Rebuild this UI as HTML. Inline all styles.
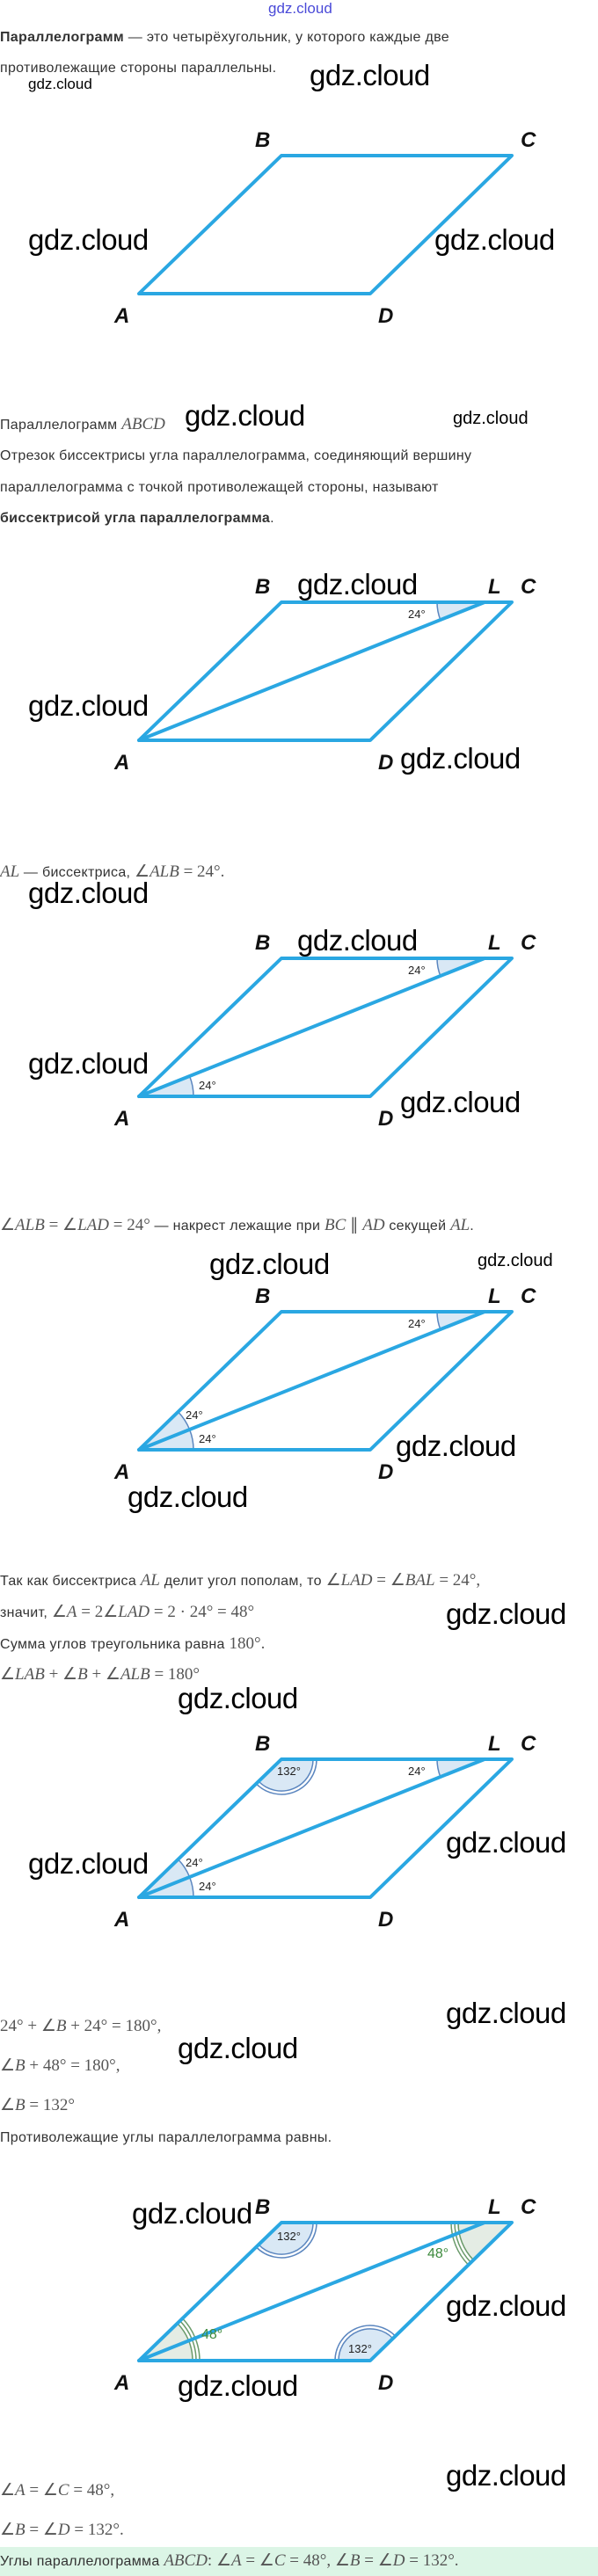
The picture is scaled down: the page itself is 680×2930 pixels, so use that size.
<!DOCTYPE html>
<html><head><meta charset="utf-8">
<style>
html,body{margin:0;padding:0;background:#fff;}
body{width:680px;height:2930px;position:relative;overflow:hidden;font-family:"Liberation Sans",sans-serif;}
.t{position:absolute;left:0;font-size:16px;letter-spacing:0.3px;color:#333;line-height:20px;white-space:nowrap;}
.m{font-family:"Liberation Serif",serif;font-style:italic;font-size:19px;letter-spacing:0;color:#555;}
.n{font-family:"Liberation Serif",serif;font-size:19px;letter-spacing:0;color:#555;}
.w{position:absolute;font-family:"Liberation Sans",sans-serif;color:#000;font-size:33px;line-height:36px;white-space:nowrap;letter-spacing:-0.5px;}
.ws{position:absolute;font-family:"Liberation Sans",sans-serif;color:#000;font-size:17px;line-height:20px;white-space:nowrap;}
svg{position:absolute;left:0;}
.lb{font-family:"Liberation Sans",sans-serif;font-weight:bold;font-style:italic;font-size:24px;fill:#111;}
.dg{font-family:"Liberation Sans",sans-serif;font-size:13px;fill:#222;}
</style></head><body>

<div style="position:absolute;left:305px;top:0;font-size:17px;color:#4a4ad8;font-family:'Liberation Sans',sans-serif;">gdz.cloud</div>

<div class="t" style="top:33px"><b>Параллелограмм</b> — это четырёхугольник, у которого каждые две</div>
<div class="t" style="top:68px">противолежащие стороны параллельны.</div>
<div class="w" style="left:352px;top:68px">gdz.cloud</div>
<div class="ws" style="left:32px;top:86px">gdz.cloud</div>

<!-- Figure 1 -->
<svg width="680" height="260" style="top:140px" viewBox="0 140 680 260">
<g transform="translate(0,177)">
<polygon points="320,0 582,0 421,157 158,157" fill="none" stroke="#2aa7e2" stroke-width="4" stroke-linejoin="round"/>
<text class="lb" x="290" y="-10">B</text><text class="lb" x="592" y="-10">C</text>
<text class="lb" x="130" y="190">A</text><text class="lb" x="430" y="190">D</text>
</g></svg>
<div class="w" style="left:32px;top:255px">gdz.cloud</div>
<div class="w" style="left:494px;top:255px">gdz.cloud</div>

<div class="t" style="top:473px">Параллелограмм <span class="m">ABCD</span></div>
<div class="w" style="left:210px;top:455px">gdz.cloud</div>
<div class="ws" style="left:515px;top:466px;font-size:20px">gdz.cloud</div>
<div class="t" style="top:509px">Отрезок биссектрисы угла параллелограмма, соединяющий вершину</div>
<div class="t" style="top:545px">параллелограмма с точкой противолежащей стороны, называют</div>
<div class="t" style="top:580px"><b>биссектрисой угла параллелограмма</b>.</div>

<!-- Figure 2 -->
<svg width="680" height="240" style="top:640px" viewBox="0 640 680 240">
<g transform="translate(0,685)">
<path d="M551,0 L497,0 A54,54 0 0 0 500.8,20 Z" fill="#d9e8f5"/>
<path d="M497,0 A54,54 0 0 0 500.8,20" fill="none" stroke="#5b86bf" stroke-width="1.5"/>
<polygon points="320,0 582,0 421,157 158,157" fill="none" stroke="#2aa7e2" stroke-width="4" stroke-linejoin="round"/>
<line x1="158" y1="157" x2="551" y2="0" stroke="#2aa7e2" stroke-width="4" stroke-linecap="round"/>
<text class="dg" x="464" y="18">24°</text>
<text class="lb" x="290" y="-10">B</text><text class="lb" x="555" y="-10">L</text><text class="lb" x="592" y="-10">C</text>
<text class="lb" x="130" y="190">A</text><text class="lb" x="430" y="190">D</text>
</g></svg>
<div class="w" style="left:338px;top:647px">gdz.cloud</div>
<div class="w" style="left:32px;top:785px">gdz.cloud</div>
<div class="w" style="left:455px;top:845px">gdz.cloud</div>

<div class="t" style="top:982px"><span class="m">AL</span> — биссектриса, <span class="n">∠</span><span class="m">ALB</span> <span class="n">= 24°.</span></div>
<div class="w" style="left:32px;top:998px">gdz.cloud</div>

<!-- Figure 3 -->
<svg width="680" height="240" style="top:1040px" viewBox="0 1040 680 240">
<g transform="translate(0,1090)">
<path d="M551,0 L497,0 A54,54 0 0 0 500.8,20 Z" fill="#d9e8f5"/>
<path d="M497,0 A54,54 0 0 0 500.8,20" fill="none" stroke="#5b86bf" stroke-width="1.5"/>
<path d="M158,157 L220,157 A62,62 0 0 0 215.6,134 Z" fill="#d9e8f5"/>
<path d="M220,157 A62,62 0 0 0 215.6,134" fill="none" stroke="#5b86bf" stroke-width="1.5"/>
<polygon points="320,0 582,0 421,157 158,157" fill="none" stroke="#2aa7e2" stroke-width="4" stroke-linejoin="round"/>
<line x1="158" y1="157" x2="551" y2="0" stroke="#2aa7e2" stroke-width="4" stroke-linecap="round"/>
<text class="dg" x="464" y="18">24°</text><text class="dg" x="226" y="149">24°</text>
<text class="lb" x="290" y="-10">B</text><text class="lb" x="555" y="-10">L</text><text class="lb" x="592" y="-10">C</text>
<text class="lb" x="130" y="190">A</text><text class="lb" x="430" y="190">D</text>
</g></svg>
<div class="w" style="left:338px;top:1052px">gdz.cloud</div>
<div class="w" style="left:32px;top:1192px">gdz.cloud</div>
<div class="w" style="left:455px;top:1236px">gdz.cloud</div>

<div class="t" style="top:1384px"><span class="n">∠</span><span class="m">ALB</span> <span class="n">= ∠</span><span class="m">LAD</span> <span class="n">= 24°</span> — накрест лежащие при <span class="m">BC</span> <span class="n">∥</span> <span class="m">AD</span> секущей <span class="m">AL</span>.</div>
<div class="w" style="left:238px;top:1420px">gdz.cloud</div>
<div class="ws" style="left:543px;top:1424px;font-size:20px">gdz.cloud</div>

<!-- Figure 4 -->
<svg width="680" height="240" style="top:1450px" viewBox="0 1450 680 240">
<g transform="translate(0,1492)">
<path d="M551,0 L497,0 A54,54 0 0 0 500.8,20 Z" fill="#d9e8f5"/>
<path d="M497,0 A54,54 0 0 0 500.8,20" fill="none" stroke="#5b86bf" stroke-width="1.5"/>
<path d="M158,157 L220,157 A62,62 0 0 0 202.5,113.9 Z" fill="#d9e8f5"/>
<path d="M220,157 A62,62 0 0 0 215.6,134" fill="none" stroke="#5b86bf" stroke-width="1.5"/>
<path d="M215.6,134 A62,62 0 0 0 202.5,113.9" fill="none" stroke="#5b86bf" stroke-width="1.5"/>
<polygon points="320,0 582,0 421,157 158,157" fill="none" stroke="#2aa7e2" stroke-width="4" stroke-linejoin="round"/>
<line x1="158" y1="157" x2="551" y2="0" stroke="#2aa7e2" stroke-width="4" stroke-linecap="round"/>
<text class="dg" x="464" y="18">24°</text><text class="dg" x="226" y="149">24°</text><text class="dg" x="211" y="122">24°</text>
<text class="lb" x="290" y="-10">B</text><text class="lb" x="555" y="-10">L</text><text class="lb" x="592" y="-10">C</text>
<text class="lb" x="130" y="190">A</text><text class="lb" x="430" y="190">D</text>
</g></svg>
<div class="w" style="left:450px;top:1627px">gdz.cloud</div>
<div class="w" style="left:145px;top:1685px">gdz.cloud</div>

<div class="t" style="top:1788px">Так как биссектриса <span class="m">AL</span> делит угол пополам, то <span class="n">∠</span><span class="m">LAD</span> <span class="n">= ∠</span><span class="m">BAL</span> <span class="n">= 24°,</span></div>
<div class="t" style="top:1824px">значит, <span class="n">∠</span><span class="m">A</span> <span class="n">= 2∠</span><span class="m">LAD</span> <span class="n">= 2 · 24° = 48°</span></div>
<div class="w" style="left:507px;top:1818px">gdz.cloud</div>
<div class="t" style="top:1860px">Сумма углов треугольника равна <span class="n">180°.</span></div>
<div class="t" style="top:1895px"><span class="n">∠</span><span class="m">LAB</span> <span class="n">+ ∠</span><span class="m">B</span> <span class="n">+ ∠</span><span class="m">ALB</span> <span class="n">= 180°</span></div>
<div class="w" style="left:202px;top:1914px">gdz.cloud</div>

<!-- Figure 5 -->
<svg width="680" height="240" style="top:1960px" viewBox="0 1960 680 240">
<g transform="translate(0,2001)">
<path d="M551,0 L497,0 A54,54 0 0 0 500.8,20 Z" fill="#d9e8f5"/>
<path d="M497,0 A54,54 0 0 0 500.8,20" fill="none" stroke="#5b86bf" stroke-width="1.5"/>
<path d="M158,157 L220,157 A62,62 0 0 0 202.5,113.9 Z" fill="#d9e8f5"/>
<path d="M220,157 A62,62 0 0 0 215.6,134" fill="none" stroke="#5b86bf" stroke-width="1.5"/>
<path d="M215.6,134 A62,62 0 0 0 202.5,113.9" fill="none" stroke="#5b86bf" stroke-width="1.5"/>
<path d="M320,0 L294.1,25.1 A36,36 0 0 0 356,0 Z" fill="#d9e8f5"/>
<path d="M294.1,25.1 A36,36 0 0 0 356,0" fill="none" stroke="#5b86bf" stroke-width="1.5"/>
<path d="M291.3,27.8 A40,40 0 0 0 360,0" fill="none" stroke="#5b86bf" stroke-width="1.5"/>
<polygon points="320,0 582,0 421,157 158,157" fill="none" stroke="#2aa7e2" stroke-width="4" stroke-linejoin="round"/>
<line x1="158" y1="157" x2="551" y2="0" stroke="#2aa7e2" stroke-width="4" stroke-linecap="round"/>
<text class="dg" x="464" y="18">24°</text><text class="dg" x="226" y="149">24°</text><text class="dg" x="211" y="122">24°</text>
<text class="dg" x="315" y="18">132°</text>
<text class="lb" x="290" y="-10">B</text><text class="lb" x="555" y="-10">L</text><text class="lb" x="592" y="-10">C</text>
<text class="lb" x="130" y="190">A</text><text class="lb" x="430" y="190">D</text>
</g></svg>
<div class="w" style="left:32px;top:2102px">gdz.cloud</div>
<div class="w" style="left:507px;top:2078px">gdz.cloud</div>

<div class="w" style="left:507px;top:2272px">gdz.cloud</div>
<div class="t" style="top:2295px"><span class="n">24° + ∠</span><span class="m">B</span> <span class="n">+ 24° = 180°,</span></div>
<div class="w" style="left:202px;top:2312px">gdz.cloud</div>
<div class="t" style="top:2340px"><span class="n">∠</span><span class="m">B</span> <span class="n">+ 48° = 180°,</span></div>
<div class="t" style="top:2385px"><span class="n">∠</span><span class="m">B</span> <span class="n">= 132°</span></div>
<div class="t" style="top:2422px">Противолежащие углы параллелограмма равны.</div>

<!-- Figure 6 -->
<svg width="680" height="240" style="top:2480px" viewBox="0 2480 680 240">
<g transform="translate(0,2528)">
<path d="M158,157 L219,157 A61,61 0 0 0 201.8,114.6 Z" fill="#e4ece4"/>
<path d="M227,157 A69,69 0 0 0 207.5,109" fill="none" stroke="#6a9a6a" stroke-width="1.5"/>
<path d="M223,157 A65,65 0 0 0 204.7,111.8" fill="none" stroke="#6a9a6a" stroke-width="1.5"/>
<path d="M219,157 A61,61 0 0 0 201.8,114.6" fill="none" stroke="#6a9a6a" stroke-width="1.5"/>
<path d="M582,0 L520,0 A62,62 0 0 0 537.5,43.1 Z" fill="#e4ece4"/>
<path d="M513,0 A69,69 0 0 0 532.5,48" fill="none" stroke="#6a9a6a" stroke-width="1.5"/>
<path d="M517,0 A65,65 0 0 0 535.3,45.2" fill="none" stroke="#6a9a6a" stroke-width="1.5"/>
<path d="M521,0 A61,61 0 0 0 538.2,42.4" fill="none" stroke="#6a9a6a" stroke-width="1.5"/>
<path d="M320,0 L294.1,25.1 A36,36 0 0 0 356,0 Z" fill="#d9e8f5"/>
<path d="M294.1,25.1 A36,36 0 0 0 356,0" fill="none" stroke="#5b86bf" stroke-width="1.5"/>
<path d="M291.3,27.8 A40,40 0 0 0 360,0" fill="none" stroke="#5b86bf" stroke-width="1.5"/>
<path d="M421,157 L385,157 A36,36 0 0 1 446.9,131.9 Z" fill="#d9e8f5"/>
<path d="M385,157 A36,36 0 0 1 446.9,131.9" fill="none" stroke="#5b86bf" stroke-width="1.5"/>
<path d="M381,157 A40,40 0 0 1 449.7,129.2" fill="none" stroke="#5b86bf" stroke-width="1.5"/>
<polygon points="320,0 582,0 421,157 158,157" fill="none" stroke="#2aa7e2" stroke-width="4" stroke-linejoin="round"/>
<line x1="158" y1="157" x2="551" y2="0" stroke="#2aa7e2" stroke-width="4" stroke-linecap="round"/>
<text class="dg" x="315" y="20">132°</text><text class="dg" x="396" y="148">132°</text>
<text class="dg" x="229" y="132" style="fill:#3d8a3d;font-size:16px">48°</text>
<text class="dg" x="486" y="40" style="fill:#3d8a3d;font-size:16px">48°</text>
<text class="lb" x="290" y="-10">B</text><text class="lb" x="555" y="-10">L</text><text class="lb" x="592" y="-10">C</text>
<text class="lb" x="130" y="190">A</text><text class="lb" x="430" y="190">D</text>
</g></svg>
<div class="w" style="left:150px;top:2500px">gdz.cloud</div>
<div class="w" style="left:507px;top:2605px">gdz.cloud</div>
<div class="w" style="left:202px;top:2696px">gdz.cloud</div>

<div class="w" style="left:507px;top:2798px">gdz.cloud</div>
<div class="t" style="top:2823px"><span class="n">∠</span><span class="m">A</span> <span class="n">= ∠</span><span class="m">C</span> <span class="n">= 48°,</span></div>
<div class="t" style="top:2868px"><span class="n">∠</span><span class="m">B</span> <span class="n">= ∠</span><span class="m">D</span> <span class="n">= 132°.</span></div>
<div style="position:absolute;left:0;top:2897px;width:680px;height:33px;background:#dcf5e6;"></div>
<div class="t" style="top:2903px">Углы параллелограмма <span class="m">ABCD</span><span class="n">: ∠</span><span class="m">A</span> <span class="n">= ∠</span><span class="m">C</span> <span class="n">= 48°, ∠</span><span class="m">B</span> <span class="n">= ∠</span><span class="m">D</span> <span class="n">= 132°.</span></div>

</body></html>
